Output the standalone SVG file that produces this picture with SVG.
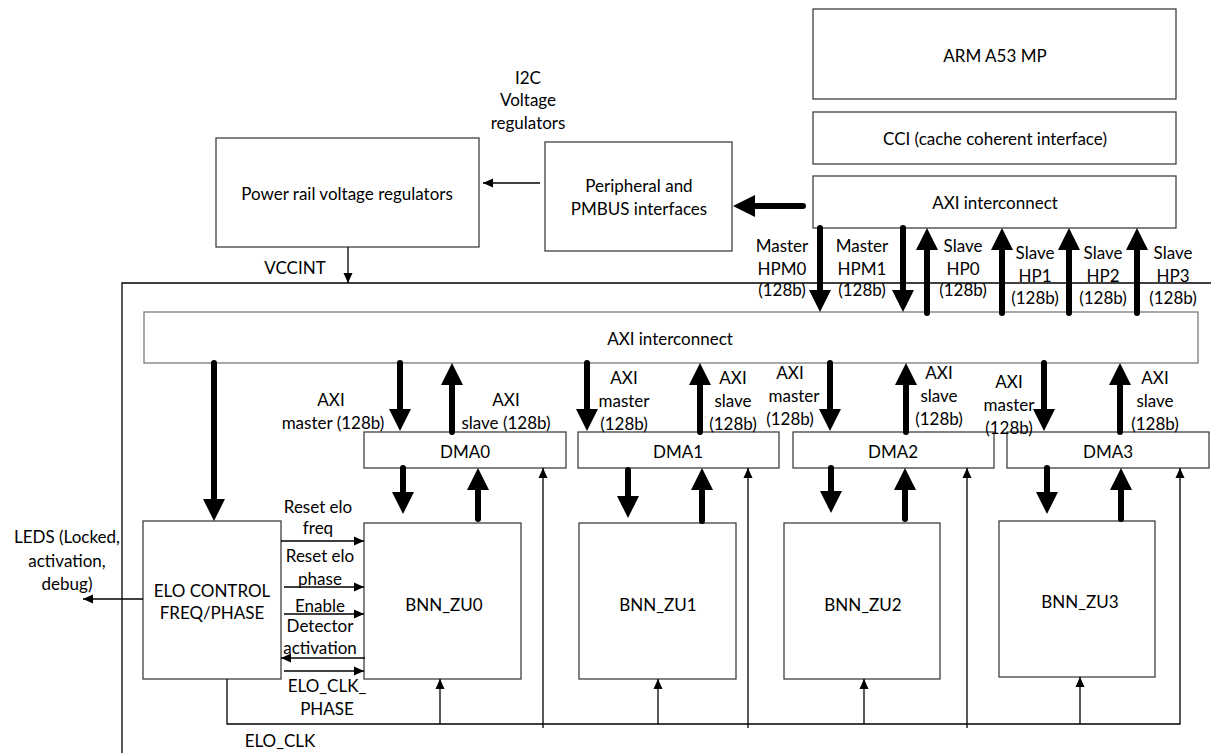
<svg xmlns="http://www.w3.org/2000/svg" width="1211" height="753" viewBox="0 0 1211 753">
  <style>
    text { font-family: Lato, "Open Sans", "Liberation Sans", sans-serif; font-size: 17px; fill: #000; text-anchor: middle; dominant-baseline: central; }
    .box { fill: #fff; stroke: #404040; stroke-width: 1.3; }
    .grey { stroke: #7a7a7a; }
    .thick { stroke: #000; stroke-width: 6; stroke-linecap: round; fill: none; }
    .thin { stroke: #000; stroke-width: 1.3; fill: none; }
  </style>
  <defs>
    <marker id="headBig" viewBox="0 0 22 22" refX="0" refY="11" markerWidth="22" markerHeight="22" markerUnits="userSpaceOnUse" orient="auto">
      <path d="M0,0 L22,11 L0,22 z" fill="#000"/>
    </marker>
    <marker id="headSmall" viewBox="0 0 10 10" refX="10" refY="5" markerWidth="10" markerHeight="10" markerUnits="userSpaceOnUse" orient="auto">
      <path d="M0,0.5 L10,5 L0,9.5 z" fill="#000"/>
    </marker>
  </defs>

  <!-- programmable logic boundary -->
  <path class="thin" d="M1211,283 H122 V753"/>

  <g id="arm">
    <rect class="box" x="813" y="9" width="363" height="90"/>
    <text x="995" y="55">ARM A53 MP</text>
  </g>
  <g id="cci">
    <rect class="box" x="813" y="112" width="363" height="52"/>
    <text x="995" y="138">CCI (cache coherent interface)</text>
  </g>
  <g id="axi_ps">
    <rect class="box" x="813" y="176" width="363" height="52"/>
    <text x="995" y="202">AXI interconnect</text>
  </g>
  <g id="power_rail">
    <rect class="box" x="216" y="138" width="263" height="109"/>
    <text x="347" y="193">Power rail voltage regulators</text>
  </g>
  <g id="peripheral">
    <rect class="box" x="545" y="142" width="187" height="109"/>
    <text x="639" y="185">Peripheral and</text>
    <text x="639" y="208">PMBUS interfaces</text>
  </g>
  <g id="axi_pl">
    <rect class="box grey" x="144" y="312" width="1054" height="51"/>
    <text x="670" y="338">AXI interconnect</text>
  </g>
  <g id="dma0">
    <rect class="box" x="364" y="432" width="202" height="36"/>
    <text x="465" y="451">DMA0</text>
  </g>
  <g id="dma1">
    <rect class="box" x="578" y="432" width="201" height="36"/>
    <text x="678" y="451">DMA1</text>
  </g>
  <g id="dma2">
    <rect class="box" x="793" y="432" width="201" height="36"/>
    <text x="893" y="451">DMA2</text>
  </g>
  <g id="dma3">
    <rect class="box" x="1007" y="432" width="202" height="36"/>
    <text x="1108" y="451">DMA3</text>
  </g>
  <g id="elo_control">
    <rect class="box" x="143" y="521" width="138" height="158"/>
    <text x="212" y="590">ELO CONTROL</text>
    <text x="212" y="612">FREQ/PHASE</text>
  </g>
  <g id="bnn_zu0">
    <rect class="box" x="364" y="523" width="157" height="156"/>
    <text x="444" y="604">BNN_ZU0</text>
  </g>
  <g id="bnn_zu1">
    <rect class="box" x="579" y="523" width="157" height="156"/>
    <text x="658" y="604">BNN_ZU1</text>
  </g>
  <g id="bnn_zu2">
    <rect class="box" x="784" y="523" width="156" height="156"/>
    <text x="863" y="604">BNN_ZU2</text>
  </g>
  <g id="bnn_zu3">
    <rect class="box" x="999" y="521" width="156" height="156"/>
    <text x="1080" y="601">BNN_ZU3</text>
  </g>

  <g id="connectors">
    <!-- wide AXI buses -->
    <g class="thick" marker-end="url(#headBig)">
      <line x1="803" y1="206" x2="755" y2="206"/>
      <line x1="820" y1="228" x2="820" y2="290"/>
      <line x1="903" y1="228" x2="903" y2="290"/>
      <line x1="927" y1="313" x2="927" y2="250"/>
      <line x1="1002" y1="313" x2="1002" y2="250"/>
      <line x1="1069" y1="313" x2="1069" y2="250"/>
      <line x1="1137" y1="313" x2="1137" y2="250"/>
      <line x1="214" y1="363" x2="214" y2="499"/>
      <line x1="400" y1="363" x2="400" y2="409"/>
      <line x1="587" y1="363" x2="587" y2="409"/>
      <line x1="830" y1="363" x2="830" y2="409"/>
      <line x1="1044" y1="363" x2="1044" y2="409"/>
      <line x1="452" y1="432" x2="452" y2="385"/>
      <line x1="700" y1="432" x2="700" y2="385"/>
      <line x1="906" y1="432" x2="906" y2="385"/>
      <line x1="1120" y1="432" x2="1120" y2="385"/>
      <line x1="403" y1="468" x2="403" y2="492"/>
      <line x1="628" y1="470" x2="628" y2="496"/>
      <line x1="831" y1="468" x2="831" y2="491"/>
      <line x1="1047" y1="468" x2="1047" y2="492"/>
      <line x1="478" y1="519" x2="478" y2="490"/>
      <line x1="702" y1="521" x2="702" y2="490"/>
      <line x1="905" y1="519" x2="905" y2="490"/>
      <line x1="1121" y1="519" x2="1121" y2="490"/>
    </g>
    <!-- control and clock signals -->
    <g class="thin" marker-end="url(#headSmall)">
      <line x1="540" y1="183" x2="483" y2="183"/>
      <line x1="348" y1="247" x2="348" y2="283"/>
      <line x1="143" y1="599" x2="83" y2="599"/>
      <line x1="281" y1="541" x2="364" y2="541"/>
      <line x1="284" y1="587" x2="364" y2="587"/>
      <line x1="284" y1="614" x2="364" y2="614"/>
      <line x1="365" y1="658" x2="281" y2="658"/>
      <line x1="284" y1="671" x2="364" y2="671"/>
      <polyline points="227,679 227,724 1180,724 1180,468"/>
      <line x1="543" y1="728" x2="543" y2="468"/>
      <line x1="748" y1="728" x2="748" y2="468"/>
      <line x1="967" y1="728" x2="967" y2="468"/>
      <line x1="440" y1="724" x2="440" y2="679"/>
      <line x1="658" y1="724" x2="658" y2="679"/>
      <line x1="864" y1="724" x2="864" y2="679"/>
      <line x1="1080" y1="724" x2="1080" y2="677"/>
    </g>
  </g>

  <!-- signal labels -->
  <g id="labels">
    <text x="528" y="77">I2C</text>
    <text x="528" y="99">Voltage</text>
    <text x="528" y="122">regulators</text>
    <text x="295" y="267">VCCINT</text>

    <text x="782" y="245">Master</text>
    <text x="782" y="268">HPM0</text>
    <text x="782" y="289">(128b)</text>
    <text x="862" y="245">Master</text>
    <text x="862" y="268">HPM1</text>
    <text x="862" y="289">(128b)</text>
    <text x="963" y="245">Slave</text>
    <text x="963" y="268">HP0</text>
    <text x="963" y="289">(128b)</text>
    <text x="1035" y="252">Slave</text>
    <text x="1035" y="275">HP1</text>
    <text x="1035" y="297">(128b)</text>
    <text x="1103" y="252">Slave</text>
    <text x="1103" y="275">HP2</text>
    <text x="1103" y="297">(128b)</text>
    <text x="1173" y="252">Slave</text>
    <text x="1173" y="275">HP3</text>
    <text x="1173" y="297">(128b)</text>

    <text x="331" y="399">AXI</text>
    <text x="333" y="422">master (128b)</text>
    <text x="506" y="399">AXI</text>
    <text x="506" y="422">slave (128b)</text>
    <text x="624" y="377">AXI</text>
    <text x="624" y="400">master</text>
    <text x="624" y="423">(128b)</text>
    <text x="733" y="377">AXI</text>
    <text x="733" y="400">slave</text>
    <text x="733" y="423">(128b)</text>
    <text x="790" y="372">AXI</text>
    <text x="794" y="395">master</text>
    <text x="790" y="418">(128b)</text>
    <text x="939" y="372">AXI</text>
    <text x="939" y="395">slave</text>
    <text x="939" y="418">(128b)</text>
    <text x="1009" y="381">AXI</text>
    <text x="1009" y="404">master</text>
    <text x="1009" y="427">(128b)</text>
    <text x="1155" y="377">AXI</text>
    <text x="1155" y="400">slave</text>
    <text x="1155" y="423">(128b)</text>

    <text x="67" y="536">LEDS (Locked,</text>
    <text x="67" y="560">activation,</text>
    <text x="67" y="583">debug)</text>
    <text x="318" y="506">Reset elo</text>
    <text x="318" y="527">freq</text>
    <text x="320" y="555">Reset elo</text>
    <text x="320" y="578">phase</text>
    <text x="320" y="605">Enable</text>
    <text x="320" y="625">Detector</text>
    <text x="320" y="647">activation</text>
    <text x="327" y="685">ELO_CLK_</text>
    <text x="327" y="708">PHASE</text>
    <text x="280" y="740">ELO_CLK</text>
  </g>
</svg>
